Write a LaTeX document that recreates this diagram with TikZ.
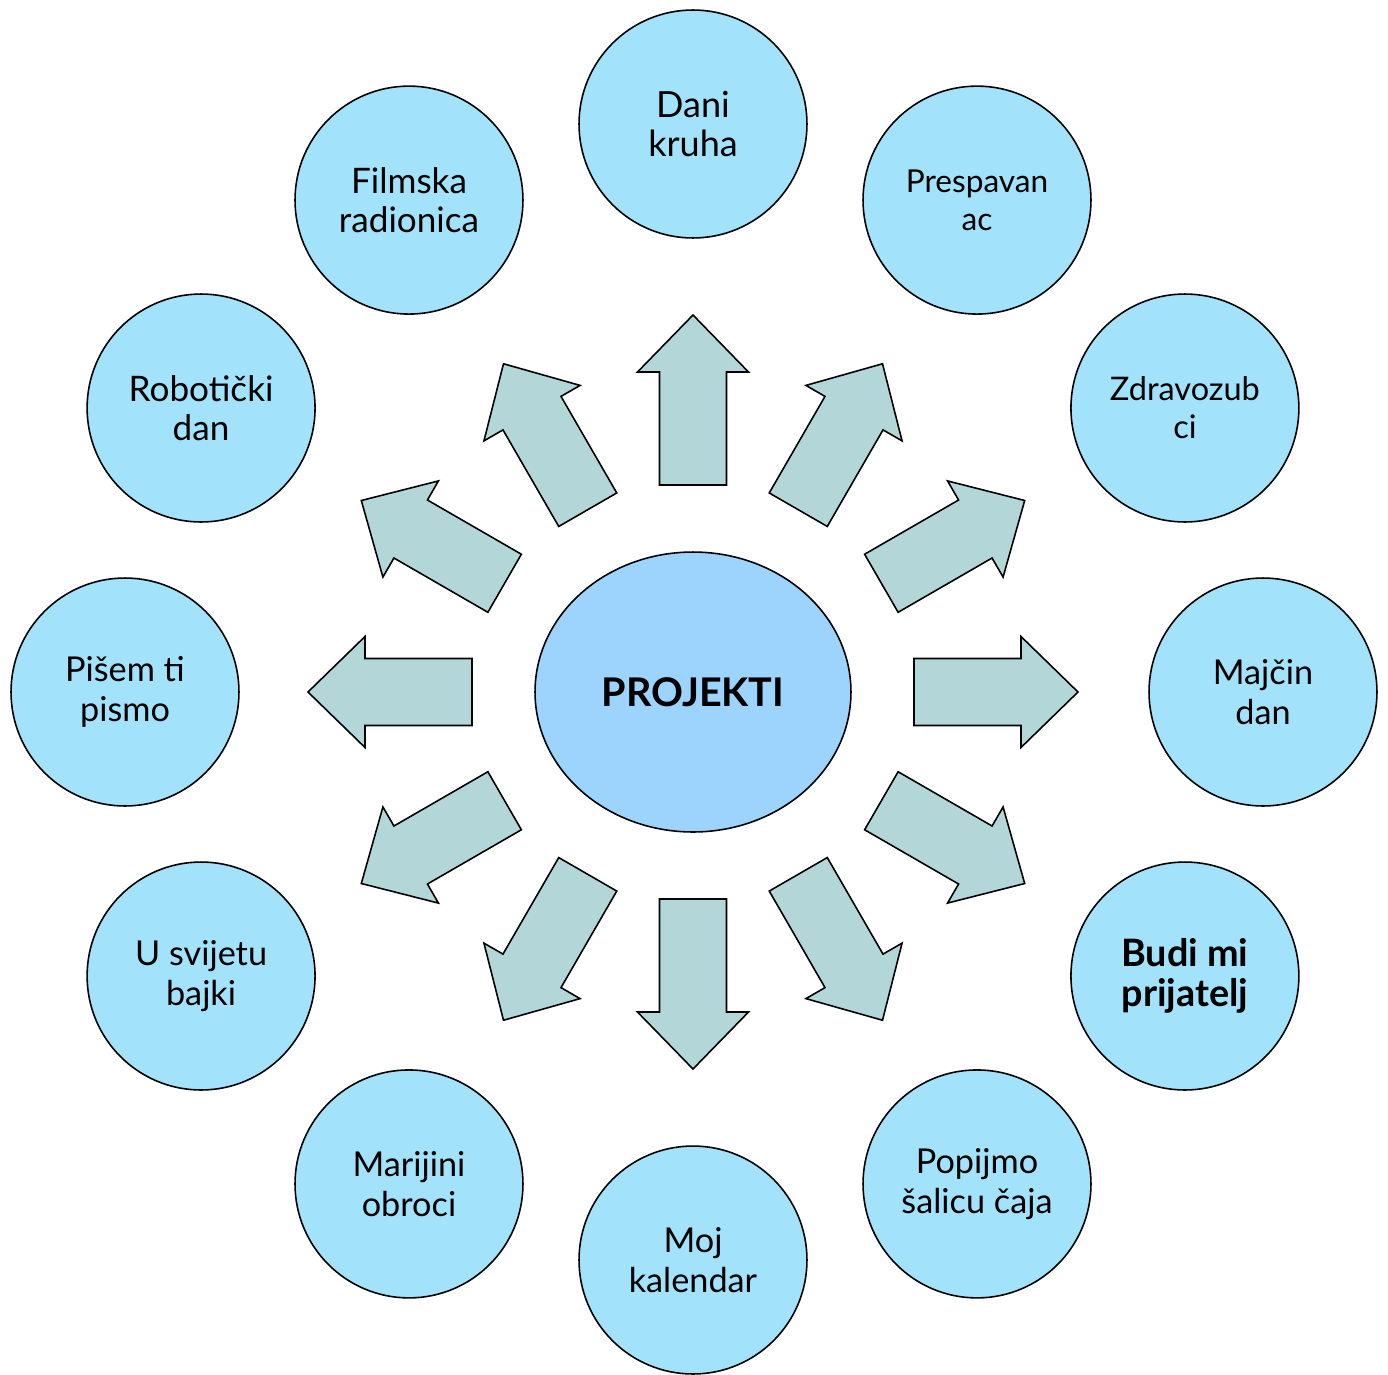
\documentclass[tikz,border=0pt]{standalone}
\usepackage{fontspec}
\setmainfont{Lato}
\usetikzlibrary{shapes.geometric}
\definecolor{ballblue}{HTML}{A2E2FB}
\definecolor{hubblue}{HTML}{9DD4FD}
\definecolor{arrowteal}{HTML}{B3D7D8}

\tikzset{
  project/.style={circle, draw=black, line width=0.9pt, fill=ballblue,
    minimum size=4.56cm, inner sep=0pt, align=center,
    font=\fontsize{19.5}{22.5}\selectfont},
  hub/.style={ellipse, draw=black, line width=0.9pt, fill=hubblue,
    minimum width=6.32cm, minimum height=5.6cm, inner sep=0pt,
    font=\bfseries\fontsize{22.5}{26}\selectfont},
  blockarrow/.style={draw=black, line width=0.9pt, fill=arrowteal, line join=miter}
}

\begin{document}
\begin{tikzpicture}[x=0.02cm, y=0.02cm]
    \useasboundingbox (-693,-682) rectangle (695,692);

    % Hub
    \node[hub] (hub) at (0,0) {PROJEKTI};

    % Projects, clockwise from the top
    \node[project, font=\fontsize{20.5}{22.5}\selectfont] (dani) at (90:568) {Dani\\kruha};
    \node[project, font=\fontsize{18}{21.5}\selectfont] (prespavanac) at (60:568) {Prespavan\\ac};
    \node[project, font=\fontsize{18.5}{21.5}\selectfont] (zdravozubci) at (30:568) {Zdravozub\\ci};
    \node[project] (majcin) at (0:570) {Majčin\\dan};
    \node[project, font=\bfseries\fontsize{21.5}{23}\selectfont] (budi) at (-30:568) {Budi mi\\prijatelj};
    \node[project] (popijmo) at (-60:568) {Popijmo\\šalicu čaja};
    \node[project] (kalendar) at (-90:568) {Moj\\kalendar};
    \node[project] (obroci) at (-120:568) {Marijini\\obroci};
    \node[project] (bajke) at (-150:568) {U svijetu\\bajki};
    \node[project] (pismo) at (180:568) {Pišem ti\\pismo};
    \node[project, font=\fontsize{20}{22.5}\selectfont] (roboticki) at (150:568) {Robotički\\dan};
    \node[project, font=\fontsize{20}{22.5}\selectfont] (filmska) at (120:568) {Filmska\\radionica};

    % Block arrows out of the hub
    \foreach \a in {0,30,...,330}{
        \pgfmathsetmacro{\ra}{214+7*cos(2*\a)}
        \pgfmathsetmacro{\rb}{\ra+167-3*cos(2*\a)}
        \draw[blockarrow, shift={(hub.center)}, rotate=\a]
            (\ra,-33.5) -- (\rb-57,-33.5) -- (\rb-57,-55.5) -- (\rb,0)
            -- (\rb-57,55.5) -- (\rb-57,33.5) -- (\ra,33.5) -- cycle;
    }
\end{tikzpicture}
\end{document}
